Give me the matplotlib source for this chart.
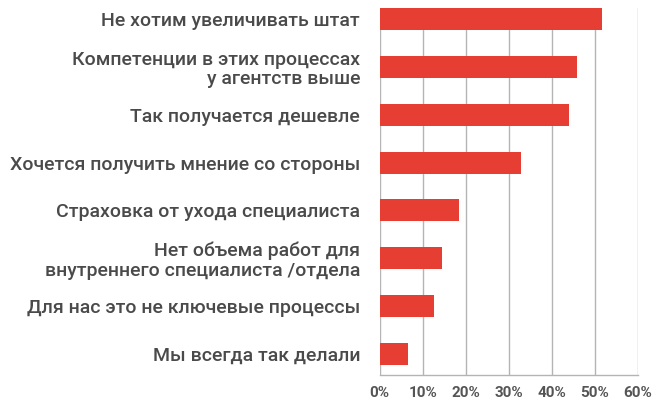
import matplotlib
matplotlib.use("Agg")
import matplotlib.pyplot as plt
from matplotlib.ticker import FuncFormatter

categories = [
    "Не хотим увеличивать штат",
    "Компетенции в этих процессах\nу агентств выше",
    "Так получается дешевле",
    "Хочется получить мнение со стороны",
    "Страховка от ухода специалиста",
    "Нет объема работ для\nвнутреннего специалиста /отдела",
    "Для нас это не ключевые процессы",
    "Мы всегда так делали",
]
values = [51.6, 45.8, 44.0, 32.8, 18.4, 14.4, 12.6, 6.5]
xticks = [0, 10, 20, 30, 40, 50, 60]

plt.rcParams['font.family'] = ['Roboto', 'DejaVu Sans']

fig = plt.figure(figsize=(6.65, 4.05), dpi=100)
ax = fig.add_axes([379.5/665, 1-375/405, (638-379.5)/665, (375-8)/405])

ypos = list(range(len(categories)))
ax.barh(ypos, values, height=0.46, color='#e63e33', zorder=2)
ax.set_ylim(len(categories) - 1 + 0.44, -0.23)
ax.set_xlim(0, 60)
ax.set_xticks(xticks)
ax.xaxis.set_major_formatter(FuncFormatter(lambda v, p: f"{int(v)}%"))
ax.set_yticks(ypos)
ax.set_yticklabels(categories, fontsize=14, color='#4a4a4a', fontweight='medium',
                   linespacing=1.1)
for t in ax.get_xticklabels():
    t.set_fontsize(11)
    t.set_fontweight('bold')
    t.set_color('#555555')
ax.tick_params(axis='y', length=0, pad=14)
ax.tick_params(axis='x', length=0, pad=8)
ax.grid(axis='x', color='#b4b4b4', linewidth=1, zorder=0)
ax.set_axisbelow(True)
for s in ['top', 'right', 'left']:
    ax.spines[s].set_visible(False)
ax.spines['bottom'].set_color('#b4b4b4')
ax.spines['bottom'].set_linewidth(1)

fig.savefig('out.png', dpi=100)
